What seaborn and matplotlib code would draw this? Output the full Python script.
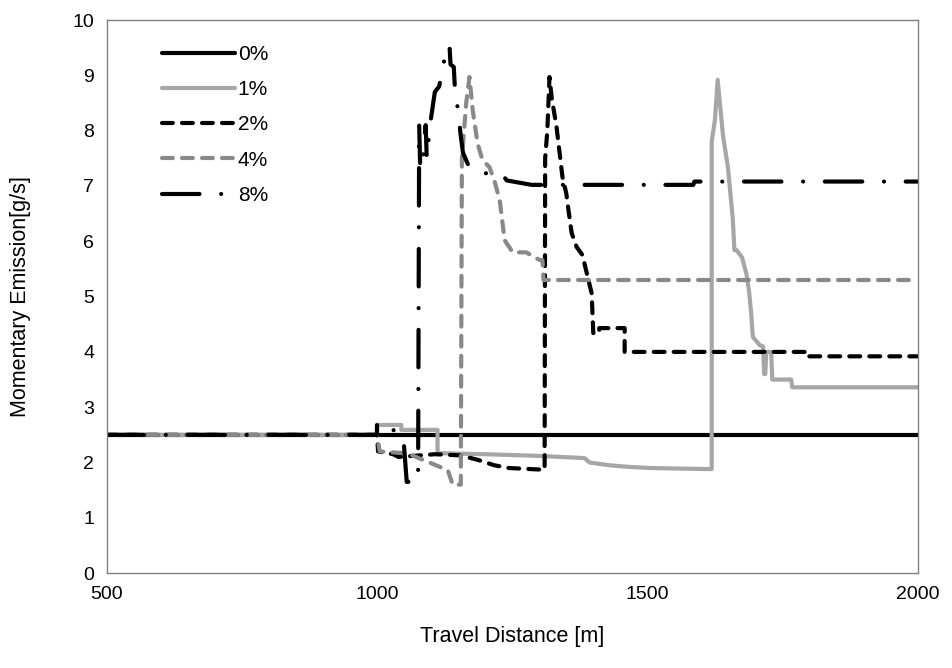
import numpy as np
import pandas as pd
import matplotlib
matplotlib.use("Agg")
import matplotlib.pyplot as plt
import seaborn as sns

# series (travel distance [m], emission [g/s])
dist_0 = [500, 2000]
emis_0 = [2.5, 2.5]

dist_1 = [500, 1000, 1000, 1045, 1045, 1112, 1112, 1200, 1300, 1384, 1393, 1430, 1467, 1508,
          1619, 1619, 1625, 1630, 1640, 1649, 1658, 1661, 1665, 1675, 1683, 1688, 1692, 1695,
          1708, 1714, 1716, 1718, 1720, 1729, 1731, 1766, 1768, 2000]
emis_1 = [2.5, 2.5, 2.68, 2.68, 2.59, 2.59, 2.17, 2.15, 2.12, 2.08, 2.0, 1.95, 1.92, 1.9,
          1.88, 7.8, 8.2, 8.92, 7.9, 7.34, 6.4, 5.84, 5.84, 5.71, 5.42, 5.1, 4.7, 4.27,
          4.12, 4.1, 3.6, 3.6, 4.0, 4.0, 3.5, 3.5, 3.36, 3.36]

dist_2 = [500, 1000, 1002, 1030, 1040, 1107, 1153, 1186, 1217, 1245, 1308, 1310, 1311, 1315,
          1319, 1323, 1332, 1343, 1350, 1355, 1360, 1369, 1380, 1388, 1397, 1400, 1411, 1411,
          1458, 1458, 1795, 1795, 2000]
emis_2 = [2.5, 2.5, 2.2, 2.15, 2.1, 2.15, 2.13, 2.05, 1.95, 1.9, 1.87, 1.87, 7.5, 8.0,
          8.97, 8.6, 8.07, 7.16, 6.87, 6.5, 6.15, 5.9, 5.75, 5.42, 5.06, 4.34, 4.34, 4.43,
          4.43, 4.0, 4.0, 3.92, 3.92]

dist_4 = [500, 1000, 1005, 1050, 1060, 1097, 1131, 1140, 1152, 1155, 1157, 1165, 1171, 1177,
          1186, 1195, 1208, 1217, 1227, 1236, 1251, 1276, 1301, 1306, 1308, 2000]
emis_4 = [2.5, 2.5, 2.2, 2.17, 2.15, 2.0, 1.86, 1.6, 1.6, 1.6, 7.5, 8.5, 8.97, 8.37,
          7.77, 7.47, 7.34, 7.1, 6.74, 6.02, 5.8, 5.8, 5.66, 5.66, 5.3, 5.3]

dist_8 = [500, 1000, 1000, 1030, 1032, 1050, 1055, 1076, 1078, 1080, 1085, 1090, 1092, 1098,
          1101, 1107, 1115, 1128, 1134, 1136, 1142, 1145, 1149, 1155, 1159, 1170, 1193, 1199,
          1230, 1240, 1286, 1585, 1587, 2000]
emis_8 = [2.5, 2.5, 2.68, 2.68, 2.4, 2.3, 1.65, 1.65, 8.1, 7.3, 7.5, 8.1, 7.5, 8.1,
          8.3, 8.7, 8.8, 9.46, 9.55, 9.2, 9.15, 8.6, 8.43, 7.9, 7.6, 7.35, 7.29, 7.23,
          7.23, 7.1, 7.02, 7.02, 7.08, 7.08]

grades = ["0%", "1%", "2%", "4%", "8%"]

frames = []
for g, xs, ys in zip(grades, [dist_0, dist_1, dist_2, dist_4, dist_8],
                     [emis_0, emis_1, emis_2, emis_4, emis_8]):
    frames.append(pd.DataFrame({"dist": xs, "emis": ys, "grade": g}))
df = pd.concat(frames, ignore_index=True)

sns.set_theme(style="white")
plt.rcParams["font.family"] = ["Liberation Sans", "DejaVu Sans"]
plt.rcParams["text.color"] = "black"
plt.rcParams["axes.labelcolor"] = "black"
plt.rcParams["xtick.color"] = "black"
plt.rcParams["ytick.color"] = "black"

palette = {"0%": "#000000", "1%": "#a6a6a6", "2%": "#000000", "4%": "#898989", "8%": "#000000"}
dashes = {"0%": "", "1%": "", "2%": (2.6, 2.2), "4%": (2.6, 2.2), "8%": (9.0, 5.2, 0.01, 5.2)}
LW = 3.0

fig, ax = plt.subplots(figsize=(9.52, 6.68), dpi=100)
fig.subplots_adjust(left=0.112, right=0.964, top=0.970, bottom=0.142)

sns.lineplot(data=df, x="dist", y="emis", hue="grade", style="grade", palette=palette,
             dashes=dashes, sort=False, estimator=None, linewidth=LW, ax=ax)

for line in ax.lines:
    line.set_dash_capstyle("round")
    line.set_solid_capstyle("round")

ax.set_xlim(500, 2000)
ax.set_ylim(0, 10)
ax.set_xticks([500, 1000, 1500, 2000])
ax.set_yticks(range(0, 11))
ax.tick_params(axis="both", labelsize=14, length=0, pad=9, colors="black")
for s in ax.spines.values():
    s.set_color("#808080")
    s.set_linewidth(1)

ax.set_xlabel("Travel Distance [m]", fontsize=15.5, labelpad=17)
ax.set_ylabel("Momentary Emission[g/s]", fontsize=15.5, labelpad=30)

leg = ax.legend(loc="upper left", bbox_to_anchor=(0.055, 0.974), frameon=False, fontsize=15,
                handlelength=3.5, handletextpad=0.15, labelspacing=0.78, borderpad=0)
for h in leg.get_lines():
    h.set_linewidth(LW)
    h.set_dash_capstyle("round")
    h.set_solid_capstyle("round")

fig.savefig("out.png", dpi=100)
